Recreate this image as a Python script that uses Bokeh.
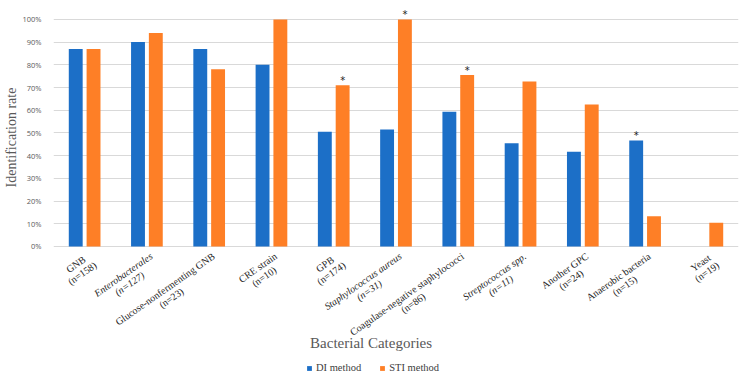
import numpy as np
from bokeh.plotting import figure
from bokeh.models import (ColumnDataSource, Range1d, FixedTicker, NumeralTickFormatter,
                          Legend, LegendItem, Title)
from bokeh.core.properties import value
from bokeh.embed import file_html
from bokeh.resources import INLINE

categories = ["GNB", "Enterobacterales", "Glucose-nonfermenting GNB", "CRE strain", "GPB",
              "Staphylococcus aureus", "Coagulase-negative staphylococci", "Streptococcus spp.",
              "Another GPC", "Anaerobic bacteria", "Yeast"]
counts = [158, 127, 23, 10, 174, 31, 86, 11, 24, 15, 19]
italic = [False, True, False, False, False, True, False, True, False, False, False]
di_rate = [0.87, 0.90, 0.87, 0.80, 0.505, 0.515, 0.593, 0.455, 0.417, 0.467, 0.0]
sti_rate = [0.87, 0.94, 0.78, 1.00, 0.71, 1.00, 0.755, 0.727, 0.625, 0.133, 0.105]
significant = ["", "", "", "", "STI", "STI", "STI", "", "", "DI", ""]
y_ticks = [0.0, 0.1, 0.2, 0.3, 0.4, 0.5, 0.6, 0.7, 0.8, 0.9, 1.0]

BLUE = "#1C6FC7"
ORANGE = "#FE7F26"
SERIF = "Liberation Serif"
GRAY = "#595959"

n = len(categories)
centers = np.arange(n) + 0.5
off = 0.143
bw = 0.223

src = ColumnDataSource(dict(
    xd=centers - off, xs=centers + off, di=di_rate, sti=sti_rate,
))

p = figure(width=745, height=377, output_backend="svg", toolbar_location=None,
           x_range=Range1d(0, n), y_range=Range1d(-0.577, 1.048),
           min_border_left=47, min_border_right=7, min_border_top=8, min_border_bottom=0)
p.outline_line_color = None
p.background_fill_color = "white"
p.border_fill_color = "white"

r_di = p.vbar(x="xd", top="di", width=bw, source=src, fill_color=BLUE, line_color=None)
r_sti = p.vbar(x="xs", top="sti", width=bw, source=src, fill_color=ORANGE, line_color=None)

# significance asterisks
sx, sy = [], []
for i, s in enumerate(significant):
    if s == "DI":
        sx.append(centers[i] - off); sy.append(di_rate[i])
    elif s == "STI":
        sx.append(centers[i] + off); sy.append(sti_rate[i])
p.text(x=sx, y=sy, text=["*"] * len(sx), text_align="center", text_baseline="bottom",
       text_font=value("DejaVu Sans"), text_font_size="10px", text_color="#222222", y_offset=1)

# category labels (rotated)
lab = ColumnDataSource(dict(
    x=centers + 0.02, y=[0.0] * n,
    text=[f"{c}\n(n={k})" for c, k in zip(categories, counts)],
    style=["italic" if it else "normal" for it in italic],
))
p.text(x="x", y="y", text="text", source=lab, angle=np.deg2rad(35), anchor="top_right",
       text_align="center", text_font=value(SERIF), text_font_size="10px",
       text_font_style={"field": "style"}, text_color="#262626", y_offset=4,
       text_line_height=1.0)

# x-axis title (drawn inside the extended frame)
p.text(x=[5.1], y=[-0.427], text=["Bacterial Categories"], text_align="center",
       text_baseline="middle", text_font=value(SERIF), text_font_size="15px",
       text_color=GRAY)

# axes
p.xaxis.visible = False
p.xgrid.visible = False
p.yaxis.ticker = FixedTicker(ticks=y_ticks)
p.yaxis.formatter = NumeralTickFormatter(format="0%")
p.yaxis.axis_line_color = None
p.yaxis.major_tick_line_color = None
p.yaxis.minor_tick_line_color = None
p.yaxis.major_label_text_font = "Open Sans"
p.yaxis.major_label_text_font_size = "7.5px"
p.yaxis.major_label_text_color = GRAY
p.yaxis.major_label_standoff = 6
p.ygrid.grid_line_color = "#D9D9D9"
p.ygrid.grid_line_width = 1

p.add_layout(Title(text="Identification rate", align="left", offset=190,
                   text_font=SERIF, text_font_style="normal", text_font_size="14px",
                   text_color=GRAY, standoff=2), "left")

legend = Legend(items=[LegendItem(label="DI method", renderers=[r_di]),
                       LegendItem(label="STI method", renderers=[r_sti])],
                orientation="horizontal", location=(253, 4),
                glyph_width=6, glyph_height=6, label_standoff=4, spacing=18,
                padding=0, margin=0, border_line_color=None, background_fill_alpha=0,
                label_text_font=SERIF, label_text_font_size="10.5px",
                label_text_color="#404040")
p.add_layout(legend, "center")

open("out.html", "w").write(file_html(p, INLINE))
